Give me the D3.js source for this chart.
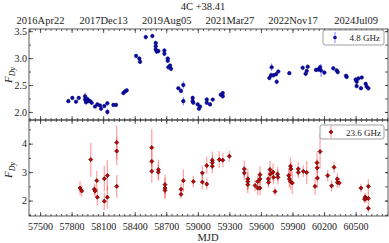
<!DOCTYPE html>
<html>
<head>
<meta charset="utf-8">
<script src="https://cdn.jsdelivr.net/npm/d3@7"></script>
<style>
  body { margin: 0; background: #fff; }
  text { font-family: "Liberation Serif", "DejaVu Serif", serif; }
</style>
</head>
<body>
<script>
// data

const title = "4C +38.41";
const xTicks = [57500, 57800, 58100, 58400, 58700, 59000, 59300, 59600, 59900, 60200, 60500];
const dateTicks = [57500, 58100, 58700, 59300, 59900, 60500];
const dateLabels = ["2016Apr22", "2017Dec13", "2019Aug05", "2021Mar27", "2022Nov17", "2024Jul09"];
const topTicks = [2.0, 2.5, 3.0, 3.5];
const botTicks = [2, 3, 4];

// 4.8 GHz
const topMjd = [57769, 57807, 57842, 57868, 57928, 57928, 57937, 57950, 57959, 57975, 57991, 58023, 58045, 58070, 58080, 58111, 58140, 58140, 58197, 58222, 58292, 58308, 58324, 58413, 58444, 58451, 58505, 58568, 58600, 58600, 58600, 58609, 58625, 58682, 58682, 58714, 58714, 58720, 58736, 58745, 58815, 58840, 58862, 58862, 58951, 58951, 58957, 58999, 59011, 59021, 59085, 59085, 59116, 59142, 59218, 59237, 59237, 59680, 59696, 59702, 59718, 59743, 59750, 59765, 59870, 59997, 60025, 60035, 60045, 60124, 60146, 60162, 60171, 60203, 60288, 60320, 60330, 60409, 60415, 60501, 60510, 60510, 60526, 60551, 60558, 60596, 60605, 60621];
const topFlux = [2.20, 2.26, 2.19, 2.26, 2.29, 2.23, 2.18, 2.24, 2.21, 2.20, 2.17, 2.10, 2.14, 2.12, 2.06, 2.11, 2.16, 2.00, 2.13, 2.13, 2.35, 2.38, 2.40, 3.04, 2.99, 2.93, 3.39, 3.41, 3.28, 3.22, 3.16, 3.12, 3.13, 3.14, 3.08, 2.99, 2.95, 2.83, 2.86, 2.80, 2.44, 2.39, 2.50, 2.20, 2.26, 2.20, 2.17, 2.14, 2.06, 2.10, 2.23, 2.17, 2.14, 2.23, 2.32, 2.35, 2.29, 2.63, 2.68, 2.83, 2.68, 2.70, 2.56, 2.75, 2.72, 2.82, 2.71, 2.76, 2.84, 2.78, 2.79, 2.83, 2.77, 2.73, 2.81, 2.77, 2.74, 2.67, 2.65, 2.60, 2.56, 2.48, 2.62, 2.44, 2.64, 2.52, 2.47, 2.44];
const topErr = [0.03, 0.03, 0.03, 0.03, 0.07, 0.05, 0.05, 0.04, 0.05, 0.04, 0.04, 0.03, 0.03, 0.03, 0.04, 0.03, 0.04, 0.06, 0.03, 0.03, 0.03, 0.03, 0.03, 0.03, 0.04, 0.04, 0.04, 0.04, 0.04, 0.04, 0.05, 0.04, 0.04, 0.04, 0.04, 0.04, 0.04, 0.04, 0.04, 0.04, 0.03, 0.04, 0.07, 0.08, 0.04, 0.04, 0.03, 0.03, 0.04, 0.03, 0.05, 0.04, 0.03, 0.03, 0.03, 0.04, 0.04, 0.04, 0.05, 0.07, 0.04, 0.04, 0.05, 0.03, 0.03, 0.04, 0.05, 0.04, 0.04, 0.04, 0.05, 0.05, 0.12, 0.04, 0.04, 0.04, 0.04, 0.04, 0.04, 0.04, 0.04, 0.04, 0.04, 0.03, 0.03, 0.04, 0.04, 0.04];

// 23.6 GHz
const botMjd = [57880, 57896, 57982, 58016, 58023, 58039, 58045, 58111, 58111, 58140, 58140, 58229, 58229, 58229, 58562, 58562, 58562, 58625, 58625, 58688, 58688, 58688, 58840, 58840, 58862, 58957, 59043, 59043, 59085, 59085, 59138, 59138, 59138, 59204, 59237, 59300, 59442, 59442, 59475, 59475, 59475, 59544, 59569, 59569, 59591, 59591, 59591, 59670, 59673, 59686, 59690, 59715, 59720, 59734, 59758, 59762, 59864, 59870, 59881, 59881, 59885, 59898, 59955, 59955, 60003, 60035, 60114, 60133, 60135, 60137, 60162, 60235, 60272, 60295, 60326, 60326, 60345, 60551, 60585, 60590, 60599, 60621, 60621, 60621];
const botFlux = [2.44, 2.34, 3.44, 2.40, 2.34, 2.70, 2.12, 2.77, 1.98, 2.88, 2.12, 4.04, 3.74, 2.50, 3.86, 3.38, 3.03, 3.09, 3.00, 2.56, 2.44, 2.36, 2.40, 2.22, 2.70, 2.67, 2.97, 2.65, 3.23, 2.58, 3.42, 3.33, 3.21, 3.44, 3.42, 3.56, 3.11, 2.97, 2.76, 2.67, 2.56, 2.53, 2.67, 2.44, 2.91, 2.76, 2.44, 2.76, 2.64, 3.09, 2.93, 3.00, 2.82, 2.32, 2.93, 2.82, 2.88, 2.76, 3.21, 2.67, 3.11, 2.62, 3.11, 2.99, 3.03, 2.99, 2.50, 3.33, 3.15, 2.79, 3.72, 2.88, 2.52, 3.17, 2.76, 2.64, 2.62, 2.44, 2.05, 2.12, 2.08, 2.50, 2.08, 1.73];
const botErr = [0.25, 0.2, 0.6, 0.2, 0.2, 0.35, 0.3, 0.45, 0.3, 0.55, 0.4, 0.6, 0.5, 0.4, 0.65, 0.4, 0.4, 0.35, 0.3, 0.35, 0.35, 0.3, 0.2, 0.15, 0.4, 0.2, 0.25, 0.25, 0.3, 0.2, 0.3, 0.25, 0.25, 0.3, 0.25, 0.2, 0.3, 0.25, 0.35, 0.3, 0.3, 0.2, 0.2, 0.25, 0.3, 0.25, 0.25, 0.25, 0.2, 0.3, 0.25, 0.3, 0.25, 0.15, 0.25, 0.25, 0.25, 0.3, 0.3, 0.3, 0.25, 0.4, 0.25, 0.2, 0.2, 0.4, 0.3, 0.35, 0.3, 0.35, 0.6, 0.2, 0.2, 0.2, 0.2, 0.2, 0.15, 0.15, 0.15, 0.15, 0.15, 0.25, 0.2, 0.15];

function drawChart() {

    // dimensions

    const dms = { width: 389, height: 243, left: 29, right: 388, top: 29, mid: 120, bottom: 216 };

    const svg = d3.select("body")
                  .append("svg")
                    .attr("width", dms.width)
                    .attr("height", dms.height);

    // scales

    const x = d3.scaleLinear().domain([57395, 60808]).range([dms.left, dms.right]);
    const yTop = d3.scaleLinear().domain([1.85, 3.54]).range([dms.mid, dms.top]);
    const yBot = d3.scaleLinear().domain([1.46, 4.83]).range([dms.bottom, dms.mid]);

    const minorX = d3.range(57400, 60801, 50);
    const minorTop = d3.range(1.75, 3.6, 0.25).filter(v => v > 1.85 && v < 3.54);
    const minorBot = d3.range(1.5, 4.9, 0.5).filter(v => v > 1.46 && v < 4.83);

    const axisColor = "#333";

    function styleAxis(g) {
        g.select(".domain").remove();
        g.selectAll(".tick line").attr("stroke", axisColor).attr("stroke-width", 0.8);
        g.selectAll(".tick text").attr("fill", "#222").style("font-size", "10px")
         .style("font-family", "'Liberation Serif', serif");
    }

    function panelAxes(y, y0, y1, ticks, minor, fmt, showX) {
        // bottom
        svg.append("g").attr("transform", `translate(0,${y0})`)
           .call(d3.axisBottom(x).tickValues(minorX).tickSize(-2).tickFormat(""))
           .call(styleAxis);
        svg.append("g").attr("transform", `translate(0,${y0})`)
           .call(d3.axisBottom(x).tickValues(xTicks).tickSize(-4).tickPadding(7)
                 .tickFormat(showX ? d3.format("d") : ""))
           .call(styleAxis);
        // top
        svg.append("g").attr("transform", `translate(0,${y1})`)
           .call(d3.axisTop(x).tickValues(minorX).tickSize(-2).tickFormat(""))
           .call(styleAxis);
        svg.append("g").attr("transform", `translate(0,${y1})`)
           .call(d3.axisTop(x).tickValues(xTicks).tickSize(-4).tickFormat(""))
           .call(styleAxis);
        // left
        svg.append("g").attr("transform", `translate(${dms.left},0)`)
           .call(d3.axisLeft(y).tickValues(minor).tickSize(-2).tickFormat(""))
           .call(styleAxis);
        svg.append("g").attr("transform", `translate(${dms.left},0)`)
           .call(d3.axisLeft(y).tickValues(ticks).tickSize(-4).tickPadding(2).tickFormat(fmt))
           .call(styleAxis);
        // right
        svg.append("g").attr("transform", `translate(${dms.right},0)`)
           .call(d3.axisRight(y).tickValues(minor.concat(ticks)).tickSize(-3).tickFormat(""))
           .call(styleAxis);
        // frame
        svg.append("rect")
           .attr("x", dms.left).attr("y", y1)
           .attr("width", dms.right - dms.left).attr("height", y0 - y1)
           .attr("fill", "none").attr("stroke", axisColor).attr("stroke-width", 0.8);
    }

    panelAxes(yTop, dms.mid, dms.top, topTicks, minorTop, d3.format(".1f"), false);
    panelAxes(yBot, dms.bottom, dms.mid, botTicks, minorBot, d3.format("d"), true);

    // date axis on top
    svg.append("g").attr("transform", `translate(0,${dms.top})`)
       .call(d3.axisTop(x).tickValues(dateTicks).tickSize(0).tickPadding(5)
             .tickFormat((d, i) => dateLabels[i]))
       .call(styleAxis)
       .selectAll(".tick text").style("font-size", "10.5px");

    // titles
    svg.append("text").attr("x", 203).attr("y", 10)
       .attr("text-anchor", "middle").style("font-size", "10.5px").attr("fill", "#222")
       .text(title);
    svg.append("text").attr("x", 208).attr("y", 241)
       .attr("text-anchor", "middle").style("font-size", "10.5px").attr("fill", "#222")
       .text("MJD");

    [75, 170].forEach(cy => {
        const t = svg.append("text")
           .attr("transform", `translate(12,${cy}) rotate(-90)`)
           .attr("text-anchor", "middle").attr("fill", "#222")
           .style("font-size", "11px").style("font-style", "italic");
        t.append("tspan").text("F");
        t.append("tspan").attr("dy", 3).style("font-size", "8px").text("Dy");
    });

    // data

    const topData = topMjd.map((m, i) => ({ m, v: topFlux[i], e: topErr[i] }));
    const botData = botMjd.map((m, i) => ({ m, v: botFlux[i], e: botErr[i] }));

    const gTop = svg.append("g");
    gTop.selectAll("line")
        .data(topData)
        .enter()
        .append("line")
          .attr("x1", d => x(d.m)).attr("x2", d => x(d.m))
          .attr("y1", d => yTop(d.v - d.e)).attr("y2", d => yTop(d.v + d.e))
          .attr("stroke", "rgba(40,40,255,0.6)").attr("stroke-width", 1);
    gTop.selectAll("circle")
        .data(topData)
        .enter()
        .append("circle")
          .attr("cx", d => x(d.m)).attr("cy", d => yTop(d.v))
          .attr("r", 1.8)
          .attr("fill", "#0a0aa8").attr("stroke", "#000066").attr("stroke-width", 0.5);

    const diamond = d3.symbol().type(d3.symbolDiamond2).size(11);

    const gBot = svg.append("g");
    gBot.selectAll("line")
        .data(botData)
        .enter()
        .append("line")
          .attr("x1", d => x(d.m)).attr("x2", d => x(d.m))
          .attr("y1", d => yBot(d.v - d.e)).attr("y2", d => yBot(d.v + d.e))
          .attr("stroke", "rgba(255,60,60,0.45)").attr("stroke-width", 1.3);
    gBot.selectAll("path")
        .data(botData)
        .enter()
        .append("path")
          .attr("transform", d => `translate(${x(d.m)},${yBot(d.v)})`)
          .attr("d", diamond)
          .attr("fill", "#d40000").attr("stroke", "#200").attr("stroke-width", 0.6);

    // legends

    const lg1 = svg.append("g");
    lg1.append("rect").attr("x", 323).attr("y", 30).attr("width", 61).attr("height", 15).attr("rx", 2)
       .attr("fill", "#fff").attr("stroke", "#888").attr("stroke-width", 0.8);
    lg1.append("line").attr("x1", 335).attr("x2", 335).attr("y1", 32).attr("y2", 43)
       .attr("stroke", "rgba(40,40,255,0.6)");
    lg1.append("circle").attr("cx", 335).attr("cy", 37.5).attr("r", 1.8).attr("fill", "#0a0aa8");
    lg1.append("text").attr("x", 380).attr("y", 41).attr("text-anchor", "end")
       .style("font-size", "9px").attr("fill", "#222").text("4.8 GHz");

    const lg2 = svg.append("g");
    lg2.append("rect").attr("x", 320).attr("y", 125).attr("width", 64).attr("height", 14).attr("rx", 2)
       .attr("fill", "#fff").attr("stroke", "#888").attr("stroke-width", 0.8);
    lg2.append("line").attr("x1", 331).attr("x2", 331).attr("y1", 126).attr("y2", 138)
       .attr("stroke", "rgba(255,60,60,0.45)").attr("stroke-width", 1.3);
    lg2.append("path").attr("transform", "translate(331,132)").attr("d", diamond)
       .attr("fill", "#d40000").attr("stroke", "#200").attr("stroke-width", 0.6);
    lg2.append("text").attr("x", 381).attr("y", 135.5).attr("text-anchor", "end")
       .style("font-size", "9px").attr("fill", "#222").text("23.6 GHz");
}

drawChart();
</script>
</body>
</html>
